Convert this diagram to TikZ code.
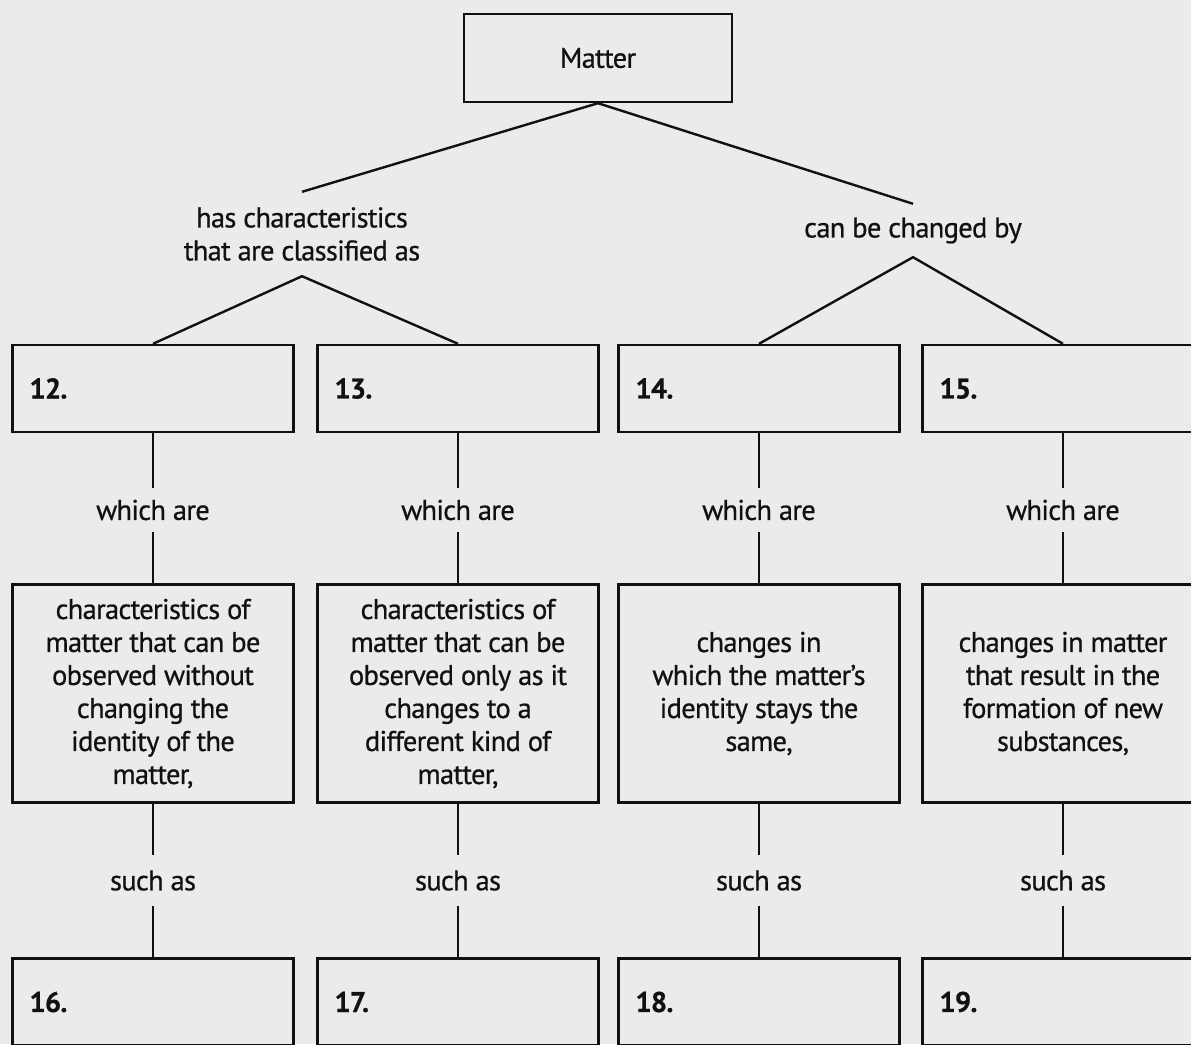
\documentclass[tikz,border=0pt]{standalone}
\usepackage{fontspec}
\setmainfont{PT Sans}[LetterSpace=-2.5,FakeBold=0.6]
\definecolor{paper}{HTML}{EBEBEB}
\definecolor{ink}{HTML}{111111}
\begin{document}
\begin{tikzpicture}[x=1pt,y=-1pt,
  txt/.style={font=\fontsize{28.5}{33}\selectfont, text=ink, align=center, inner sep=0pt},
  box/.style={txt, draw=ink, line width=2.4pt, minimum width=281pt},
  numbox/.style={box, minimum height=87pt, align=left, text width=247pt, inner xsep=17pt, font=\fontsize{28.5}{33}\selectfont\bfseries},
  descbox/.style={box, minimum height=218pt},
  link/.style={draw=ink, line width=2.4pt},
  whichlbl/.style={txt, minimum height=44pt},
  suchlbl/.style={txt, minimum height=51pt}]
\fill[paper] (0,0) rectangle (1191,1044);
\clip (0,0) rectangle (1191,1044);

% top
\node[box, minimum width=268pt, minimum height=88pt] (matter) at (598,58) {Matter};
\node[txt, minimum height=84pt] (has) at (302,234) {has characteristics\\that are classified as};
\node[txt, minimum height=53pt] (can) at (913,230.5) {can be changed by};
\draw[link] (has.north) -- (matter.south) -- (can.north);

% row 1
\node[numbox] (b12) at (153,388.5) {12.};
\node[numbox] (b13) at (458,388.5) {13.};
\node[numbox] (b14) at (759,388.5) {14.};
\node[numbox] (b15) at (1063,388.5) {15.};
\draw[link] (b12.north) -- (has.south) -- (b13.north);
\draw[link] (b14.north) -- (can.south) -- (b15.north);

% which are
\node[whichlbl] (w12) at (153,510) {which are};
\node[whichlbl] (w13) at (458,510) {which are};
\node[whichlbl] (w14) at (759,510) {which are};
\node[whichlbl] (w15) at (1063,510) {which are};

% row 2
\node[descbox] (d12) at (153,693.5) {characteristics of\\matter that can be\\observed without\\changing the\\identity of the\\matter,};
\node[descbox] (d13) at (458,693.5) {characteristics of\\matter that can be\\observed only as it\\changes to a\\different kind of\\matter,};
\node[descbox] (d14) at (759,693.5) {changes in\\which the matter’s\\identity stays the\\same,};
\node[descbox] (d15) at (1063,693.5) {changes in matter\\that result in the\\formation of new\\substances,};

\foreach \n in {12,13,14,15}{
  \draw[link] (b\n.south) -- (w\n.north);
  \draw[link] (w\n.south) -- (d\n.north);
}

% such as
\node[suchlbl] (s12) at (153,880.5) {such as};
\node[suchlbl] (s13) at (458,880.5) {such as};
\node[suchlbl] (s14) at (759,880.5) {such as};
\node[suchlbl] (s15) at (1063,880.5) {such as};

% row 3
\node[numbox] (b16) at (153,1002) {16.};
\node[numbox] (b17) at (458,1002) {17.};
\node[numbox] (b18) at (759,1002) {18.};
\node[numbox] (b19) at (1063,1002) {19.};

\foreach \a/\b in {12/16,13/17,14/18,15/19}{
  \draw[link] (d\a.south) -- (s\a.north);
  \draw[link] (s\a.south) -- (b\b.north);
}
\end{tikzpicture}
\end{document}
